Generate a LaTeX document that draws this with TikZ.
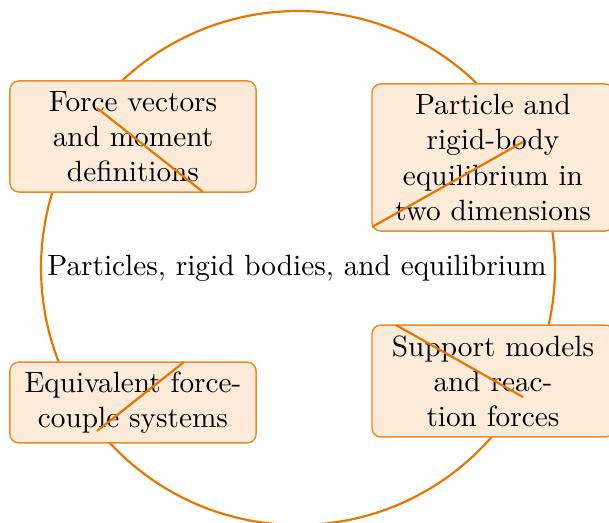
\documentclass[tikz,border=0pt]{standalone}
\usetikzlibrary{calc}
\definecolor{ringc}{RGB}{230,118,0}
\definecolor{boxfill}{RGB}{253,235,217}
\definecolor{boxline}{RGB}{236,140,40}
\begin{document}
\begin{tikzpicture}[x=0.3413pt,y=-0.3413pt,
  topic/.style={draw=boxline,line width=0.5pt,fill=boxfill,rounded corners=3pt,
    align=center,inner sep=2pt,font=\normalsize},
  ring/.style={draw=ringc,line width=0.75pt},
  chord/.style={draw=ringc,line width=0.75pt}]
\useasboundingbox (0,0) rectangle (609,522);
\coordinate (c) at (298,268);
\draw[ring] (c) circle[radius=87.7pt];
\node (hub) at (297,268) {Particles, rigid bodies, and equilibrium};
\node[topic,minimum width=84pt,minimum height=37.9pt] (b1) at (133,136.5)
  {Force vectors\\and moment\\definitions};
\node[topic,minimum width=82.6pt,minimum height=50.2pt] (b2) at (493,157.5)
  {Particle and\\rigid-body\\equilibrium in\\two dimensions};
\node[topic,minimum width=84pt,minimum height=27.6pt] (b3) at (133,402.5)
  {Equivalent force-\\couple systems};
\node[topic,minimum width=82.6pt,minimum height=38.2pt] (b4) at (493,381)
  {Support models\\and reac-\\tion forces};
\coordinate (l1a) at (97,108);  \coordinate (l1b) at (203,192);
\coordinate (l2a) at (372,227); \coordinate (l2b) at (523,142);
\coordinate (l3a) at (184,362); \coordinate (l3b) at (97,431);
\coordinate (l4a) at (396,325); \coordinate (l4b) at (523,397);
\draw[chord] (l1a) -- (l1b);
\draw[chord] (l2a) -- (l2b);
\draw[chord] (l3a) -- (l3b);
\draw[chord] (l4a) -- (l4b);
\end{tikzpicture}
\end{document}
